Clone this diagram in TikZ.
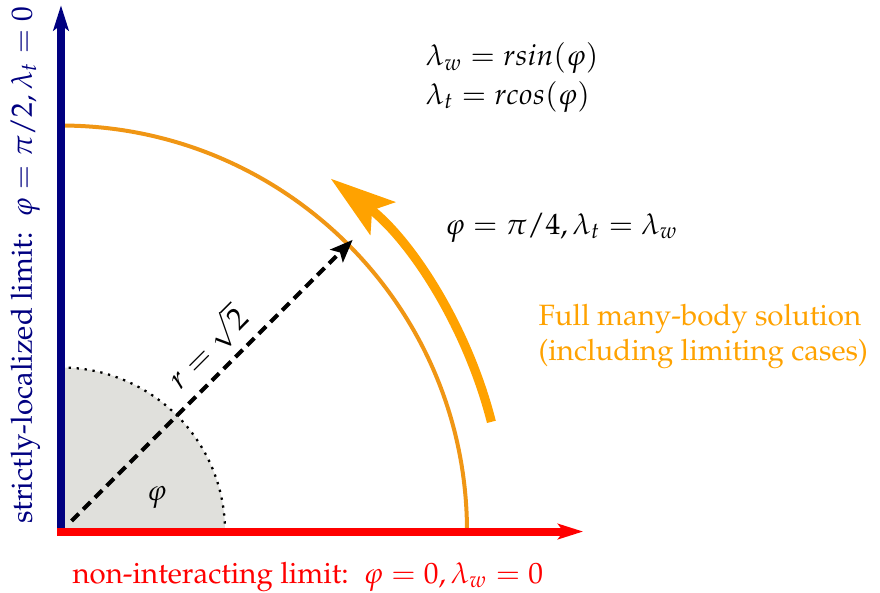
\documentclass[tikz,border=0pt]{standalone}
\usepackage[T1]{fontenc}
\usepackage{mathpazo}
\usepackage{amsmath}
\usetikzlibrary{arrows.meta}
\definecolor{axblue}{RGB}{0,0,128}
\definecolor{arcorange}{RGB}{240,150,20}
\definecolor{solorange}{RGB}{255,162,0}
\definecolor{wedgegray}{RGB}{224,224,220}
\tikzset{axis/.style={line width=2.8pt,-{Stealth[length=3.1mm,width=1.9mm,inset=0.7mm]}},rline/.style={line width=1.4pt,dash pattern=on 3.6pt off 2.2pt,-{Stealth[length=2.8mm,width=2.2mm,inset=0.6mm]}},flow/.style={line width=3.2pt,-{Stealth[length=8mm,width=5mm,inset=1.6mm]}},lab/.style={font=\fontsize{10.3}{12.5}\selectfont,inner sep=1pt,align=left}}

\begin{document}
\begin{tikzpicture}[x=1cm,y=1cm]
\useasboundingbox (-0.751,-0.745) rectangle (10.086,6.546);
\coordinate (O) at (0,0);
\coordinate (xstart) at (-0.05,0);
\coordinate (xtip) at (6.43,0);
\coordinate (ytip) at (0,6.48);
\coordinate (rstart) at (0.13,0.13);
\coordinate (rend) at (45:5.08);
\fill[wedgegray] (O) -- (2.02,0) arc[start angle=0,end angle=90,radius=2.02] -- cycle;
\draw[dotted,line width=0.8pt] (2.02,0) arc[start angle=0,end angle=90,radius=2.02];
\draw[arcorange,line width=1.4pt] (5,0) arc[start angle=0,end angle=90,radius=5];
\draw[flow,solorange] (14.3:5.47) arc[start angle=14.3,end angle=52.6,radius=5.47];
\draw[axis,axblue] (O) -- (ytip);
\draw[axis,red] (xstart) -- (xtip);
\draw[rline] (rstart) -- node[sloped,above,pos=0.55,font=\fontsize{10.8}{13}\selectfont,inner sep=3pt]{$r=\sqrt{2}$} (rend);
\node[lab] (phi) at (1.18,0.425) {$\varphi$};
\node[lab,anchor=west] (eqs) at (4.45,5.59) {$\lambda_w = rsin(\varphi)$\\[1pt]$\lambda_t = rcos(\varphi)$};
\node[lab,anchor=west] (diag) at (4.69,3.74) {$\varphi = \pi/4, \lambda_t = \lambda_w$};
\node[lab,anchor=west,text=solorange] (full) at (5.84,2.40) {Full many-body solution\\(including limiting cases)};
\node[lab,rotate=90,text=axblue] (ylab) at (-0.44,3.28) {strictly-localized limit:\ \ $\varphi = \pi/2, \lambda_t = 0$};
\node[lab,text=red] (xlab) at (3.04,-0.56) {non-interacting limit:\ \ $\varphi = 0, \lambda_w = 0$};
\end{tikzpicture}
\end{document}
